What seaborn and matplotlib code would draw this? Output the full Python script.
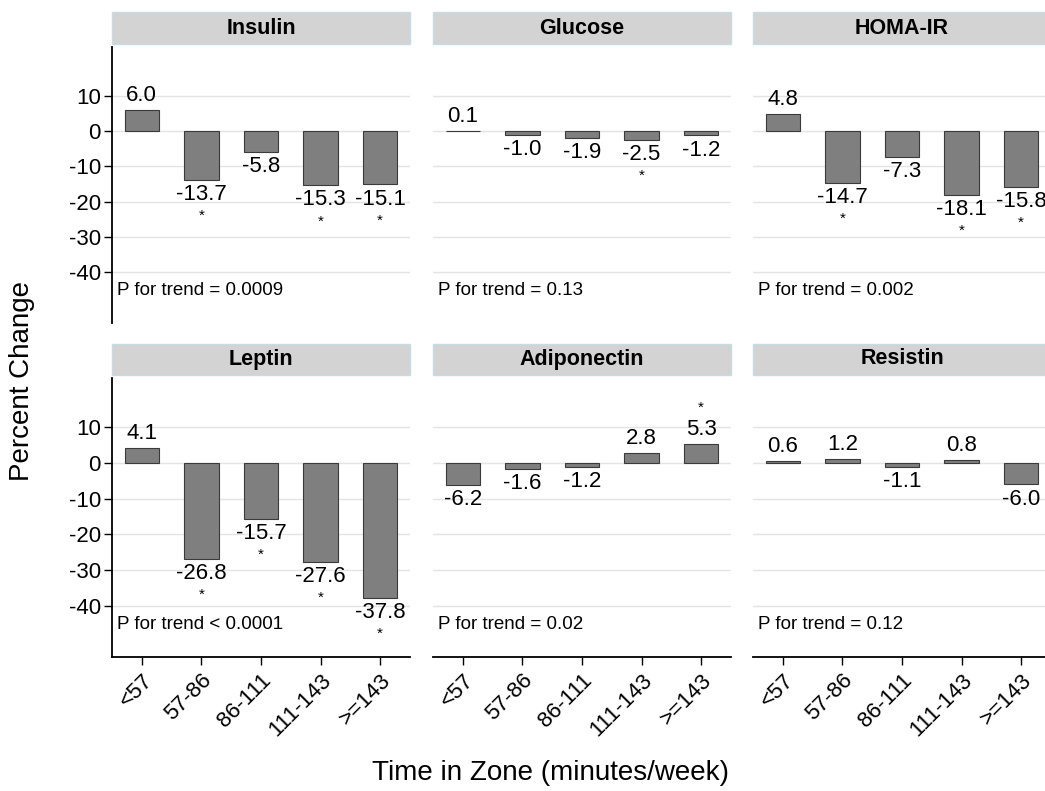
import pandas as pd
import matplotlib.pyplot as plt
import seaborn as sns
from matplotlib.patches import Rectangle

# -----------------------------
# DATA
# -----------------------------
zones = ["<57", "57-86", "86-111", "111-143", ">=143"]
markers = ["Insulin", "Glucose", "HOMA-IR", "Leptin", "Adiponectin", "Resistin"]

insulin = [6.0, -13.7, -5.8, -15.3, -15.1]
glucose = [0.1, -1.0, -1.9, -2.5, -1.2]
homa_ir = [4.8, -14.7, -7.3, -18.1, -15.8]
leptin = [4.1, -26.8, -15.7, -27.6, -37.8]
adiponectin = [-6.2, -1.6, -1.2, 2.8, 5.3]
resistin = [0.6, 1.2, -1.1, 0.8, -6.0]

insulin_sig = [0, 1, 0, 1, 1]
glucose_sig = [0, 0, 0, 1, 0]
homa_ir_sig = [0, 1, 0, 1, 1]
leptin_sig = [0, 1, 1, 1, 1]
adiponectin_sig = [0, 0, 0, 0, 1]
resistin_sig = [0, 0, 0, 0, 0]

p_trend = ["P for trend = 0.0009", "P for trend = 0.13", "P for trend = 0.002",
           "P for trend < 0.0001", "P for trend = 0.02", "P for trend = 0.12"]

y_ticks = [-40, -30, -20, -10, 0, 10]

values = [insulin, glucose, homa_ir, leptin, adiponectin, resistin]
sigs = [insulin_sig, glucose_sig, homa_ir_sig, leptin_sig, adiponectin_sig, resistin_sig]

rows = []
for m, vals, sg in zip(markers, values, sigs):
    for z, v, s in zip(zones, vals, sg):
        rows.append({"marker": m, "zone": z, "pct": v, "sig": s})
df = pd.DataFrame(rows)

# -----------------------------
# STYLE
# -----------------------------
sns.set_style("white")
plt.rcParams["font.family"] = ["Liberation Sans", "DejaVu Sans"]
plt.rcParams["axes.unicode_minus"] = False
plt.rcParams["text.color"] = "black"
plt.rcParams["xtick.color"] = "black"
plt.rcParams["ytick.color"] = "black"

W, H = 1045, 791
fig = plt.figure(figsize=(W / 100, H / 100), dpi=100)

col_left = [112, 433, 753]
ax_w = 298
row_geom = [(47, 323), (378, 657)]   # top, bottom in pixels

for i, m in enumerate(markers):
    r, c = divmod(i, 3)
    top, bot = row_geom[r]
    ax = fig.add_axes([col_left[c] / W, 1 - bot / H, ax_w / W, (bot - top) / H])
    sub = df[df["marker"] == m]

    for t in y_ticks:
        ax.axhline(t, color="#e4e4e4", lw=1, zorder=0)

    sns.barplot(data=sub, x="zone", y="pct", order=zones, ax=ax,
                color="#7f7f7f", saturation=1, edgecolor="#3a3a3a",
                linewidth=0.8, width=0.58, zorder=2)

    ax.set_xlim(-0.5, 4.5)
    ax.set_ylim(-54.3, 23.8)
    ax.set_xlabel("")
    ax.set_ylabel("")

    # value labels and significance stars
    for k, row in enumerate(sub.itertuples()):
        v = row.pct
        sign = 1 if v >= 0 else -1
        ax.annotate(f"{v:.1f}", (k, v), xytext=(0, 3 * sign),
                    textcoords="offset points", ha="center",
                    va="bottom" if sign > 0 else "top", fontsize=16, zorder=3)
        if row.sig:
            ax.annotate("*", (k, v), xytext=(0, 26 * sign),
                        textcoords="offset points", ha="center",
                        va="center", fontsize=11, zorder=3)

    ax.text(0.017, 0.118, p_trend[i], transform=ax.transAxes,
            ha="left", va="center", fontsize=13.5)

    # panel title strip
    box_h = 31 / (bot - top)
    gap = 3.5 / (bot - top)
    ax.add_patch(Rectangle((0, 1 + gap), 1, box_h, transform=ax.transAxes,
                           facecolor="#d3d3d3", edgecolor="#c9dbe3", lw=1,
                           clip_on=False))
    ax.text(0.5, 1 + gap + box_h / 2, m, transform=ax.transAxes,
            ha="center", va="center", fontsize=15.5, fontweight="bold")

    for s in ["top", "right"]:
        ax.spines[s].set_visible(False)
    ax.spines["left"].set_visible(c == 0)
    ax.spines["bottom"].set_visible(r == 1)
    for s in ["left", "bottom"]:
        ax.spines[s].set_color("black")
        ax.spines[s].set_linewidth(1.3)

    ax.set_yticks(y_ticks)
    if c == 0:
        ax.tick_params(axis="y", left=True, length=6, width=1, labelsize=16, pad=2)
    else:
        ax.tick_params(axis="y", left=False, labelleft=False)

    ax.set_xticks(range(len(zones)))
    if r == 1:
        ax.set_xticklabels(zones, rotation=45, ha="right", rotation_mode="anchor")
        ax.tick_params(axis="x", bottom=True, length=6, width=1, labelsize=16, pad=3)
    else:
        ax.tick_params(axis="x", bottom=False, labelbottom=False)

fig.text(22 / W, 1 - 381 / H, "Percent Change", rotation=90,
         ha="center", va="center", fontsize=20)
fig.text(550 / W, 1 - 773 / H, "Time in Zone (minutes/week)",
         ha="center", va="center", fontsize=20)

fig.savefig("out.png", dpi=100)
